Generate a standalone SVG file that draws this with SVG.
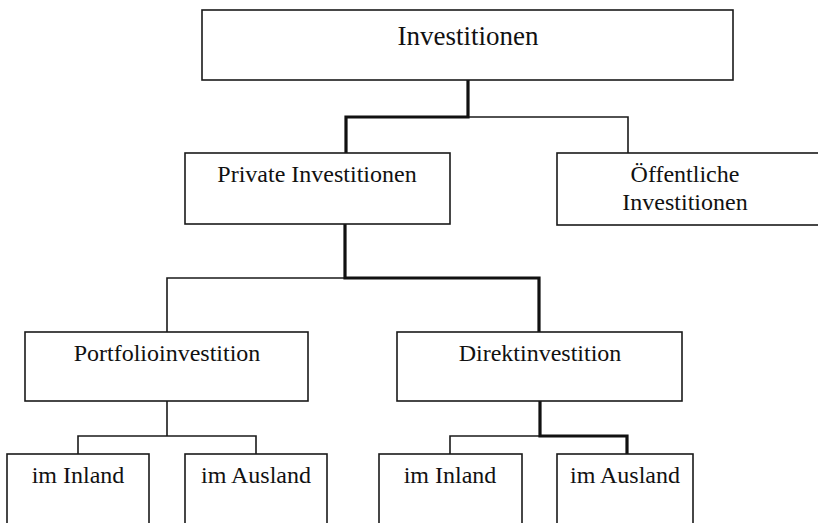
<svg xmlns="http://www.w3.org/2000/svg" width="818" height="523" viewBox="0 0 818 523">
<style>
.box{fill:#fff;stroke:#1a1a1a;stroke-width:1.6}
.t{font-family:"Liberation Serif","Times New Roman",serif;fill:#111;text-anchor:middle;font-size:24px}
.thin{fill:none;stroke:#1a1a1a;stroke-width:1.6}
.thick{fill:none;stroke:#111;stroke-width:3.2;stroke-linejoin:miter}
</style>
<rect width="818" height="523" fill="#fff"/>
<g id="connectors">
<path class="thin" d="M468 117 H628 V153"/>
<path class="thin" d="M345 278 H167 V332"/>
<path class="thin" d="M167 401 V436 M78 454 V436 H256 V454"/>
<path class="thin" d="M540 436 H450 V454"/>
<path class="thick" d="M468 80 V117 H346 V153"/>
<path class="thick" d="M345 224 V278 H539 V332"/>
<path class="thick" d="M540 401 V436 H627 V454"/>
</g>
<g id="n-investitionen">
<rect class="box" x="202" y="10" width="531" height="70"/>
<text class="t" x="468" y="45" style="font-size:27px">Investitionen</text>
</g>
<g id="n-private">
<rect class="box" x="185" y="153" width="265" height="71"/>
<text class="t" x="317" y="182">Private Investitionen</text>
</g>
<g id="n-oeffentliche">
<rect class="box" x="557" y="153" width="280" height="72"/>
<text class="t" x="685" y="182">Öffentliche</text>
<text class="t" x="685" y="210">Investitionen</text>
</g>
<g id="n-portfolio">
<rect class="box" x="25" y="332" width="283" height="69"/>
<text class="t" x="167" y="361">Portfolioinvestition</text>
</g>
<g id="n-direkt">
<rect class="box" x="397" y="332" width="285" height="69"/>
<text class="t" x="540" y="361">Direktinvestition</text>
</g>
<g id="n-p-inland">
<rect class="box" x="7" y="454" width="142" height="90"/>
<text class="t" x="78" y="483">im Inland</text>
</g>
<g id="n-p-ausland">
<rect class="box" x="185" y="454" width="142" height="90"/>
<text class="t" x="256" y="483">im Ausland</text>
</g>
<g id="n-d-inland">
<rect class="box" x="379" y="454" width="143" height="90"/>
<text class="t" x="450" y="483">im Inland</text>
</g>
<g id="n-d-ausland">
<rect class="box" x="557" y="454" width="136" height="90"/>
<text class="t" x="625" y="483">im Ausland</text>
</g>
</svg>
